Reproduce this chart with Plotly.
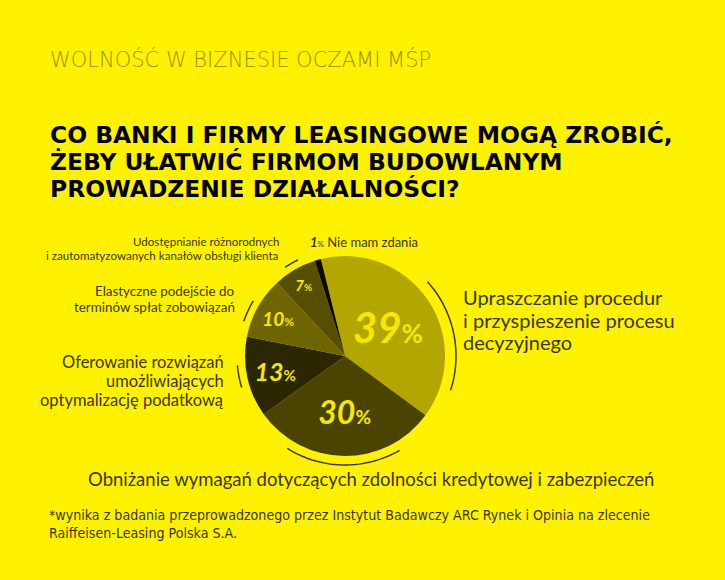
import math
import plotly.graph_objects as go

# ---- data ----
categories = [
    "Upraszczanie procedur i przyspieszenie procesu decyzyjnego",
    "Obniżanie wymagań dotyczących zdolności kredytowej i zabezpieczeń",
    "Oferowanie rozwiązań umożliwiających optymalizację podatkową",
    "Elastyczne podejście do terminów spłat zobowiązań",
    "Udostępnianie różnorodnych i zautomatyzowanych kanałów obsługi klienta",
    "Nie mam zdania",
]
values = [39, 30, 13, 10, 7, 1]

# ---- style ----
W, H = 725, 580
BG = "#fff200"
DARK = "#3a3500"
slice_colors = ["#b3a600", "#4b4300", "#2a2600", "#6e6500", "#564e00", "#0a0900"]
num_sizes = [42, 32, 25, 19, 15, 1]
pct_sizes = [26, 19, 15, 12, 10, 1]
FONT = "Lato, 'Open Sans', sans-serif"

texts = []
for v, ns, ps in zip(values, num_sizes, pct_sizes):
    if v < 3:
        texts.append("")
    else:
        texts.append(f"<b><i>{v}</i></b><span style='font-size:{ps}px'><b>%</b></span>")

cx, cy, R = 345, 356, 100

fig = go.Figure()
fig.add_trace(go.Pie(
    labels=categories,
    values=values,
    sort=False,
    direction="clockwise",
    rotation=-14,
    marker=dict(colors=slice_colors, line=dict(width=0)),
    text=texts,
    textinfo="text",
    textposition="inside",
    insidetextorientation="horizontal",
    textfont=dict(family=FONT, size=num_sizes, color="#f7e800"),
    hoverinfo="label+percent",
    showlegend=False,
    domain=dict(x=[(cx - R) / W, (cx + R) / W], y=[1 - (cy + R) / H, 1 - (cy - R) / H]),
))


def px(x, y):
    return x / W, 1 - y / H


# decorative arcs next to labels (angle clockwise from top, degrees)
arcs = [(48, 108, 111), (150, 212, 109), (253, 265, 108), (289, 301, 107), (326, 334, 107)]
shapes = []
for a0, a1, r in arcs:
    pts = []
    n = 30
    for i in range(n + 1):
        a = math.radians(a0 + (a1 - a0) * i / n)
        x = cx + r * math.sin(a)
        y = cy - r * math.cos(a)
        pts.append(px(x, y))
    path = "M " + " L ".join(f"{p[0]:.5f},{p[1]:.5f}" for p in pts)
    shapes.append(dict(type="path", path=path, xref="paper", yref="paper",
                       line=dict(color=DARK, width=1.5)))

ann = []


def add(text, x, y, size, color=DARK, xanchor="left", align="left", family=FONT, weight=None):
    fx, fy = px(x, y)
    f = dict(family=family, size=size, color=color)
    if weight:
        f["weight"] = weight
    ann.append(dict(text=text, x=fx, y=fy, xref="paper", yref="paper",
                    xanchor=xanchor, yanchor="middle", align=align,
                    showarrow=False, font=f))


def add_lines(lines, x, y0, dy, size, **kw):
    for i, line in enumerate(lines):
        add(line, x, y0 + dy * i, size, **kw)


# header
add("WOLNOŚĆ W BIZNESIE OCZAMI MŚP", 48, 60, 21, color="#9a9000", weight=200,
    family="'DejaVu Sans', sans-serif")
add_lines([f"<b>{s}</b>" for s in ["CO BANKI I FIRMY LEASINGOWE MOGĄ ZROBIĆ,",
                                   "ŻEBY UŁATWIĆ FIRMOM BUDOWLANYM",
                                   "PROWADZENIE DZIAŁALNOŚCI?"]],
          48, 135, 27, 23.4, color="#000000", family="'DejaVu Sans', sans-serif")

# category labels
add_lines(["Udostępnianie różnorodnych", "i zautomatyzowanych kanałów obsługi klienta"],
          281, 241, 14.5, 11.6, xanchor="right", align="right")
add(f"<b><i>{values[5]}</i></b><span style='font-size:8px'>%</span> Nie mam zdania",
    308, 242, 13)
add_lines(["Elastyczne podejście do", "terminów spłat zobowiązań"],
          237, 291, 15.6, 13.4, xanchor="right", align="right")
add_lines(["Oferowanie rozwiązań", "umożliwiających", "optymalizację podatkową"],
          226, 362, 19, 16.5, xanchor="right", align="right")
add_lines(["Upraszczanie procedur", "i przyspieszenie procesu", "decyzyjnego"],
          461, 297, 22.5, 20)
add("Obniżanie wymagań dotyczących zdolności kredytowej i zabezpieczeń", 371, 479, 18.5,
    xanchor="center", align="center")

# footnote
add_lines(["*wynika z badania przeprowadzonego przez Instytut Badawczy ARC Rynek i Opinia na zlecenie",
           "Raiffeisen-Leasing Polska S.A."], 47, 515, 18, 14.1,
          family="'Liberation Sans Narrow', 'DejaVu Sans Condensed', 'Roboto Condensed', sans-serif")

fig.update_layout(
    width=W, height=H,
    margin=dict(l=0, r=0, t=0, b=0),
    paper_bgcolor=BG, plot_bgcolor=BG,
    annotations=ann, shapes=shapes,
)

fig.write_html("out.html")
